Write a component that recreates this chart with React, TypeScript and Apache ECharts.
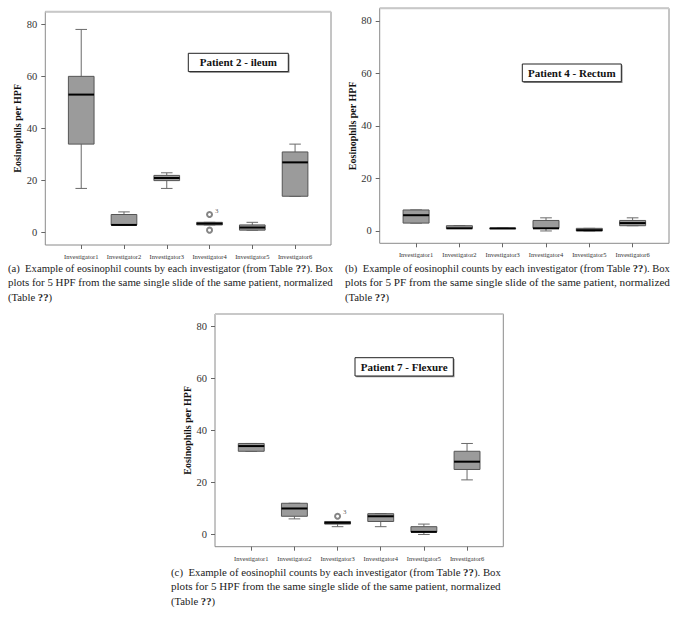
import React, { useEffect, useRef } from 'react';
import * as echarts from 'echarts';

const categories = ['Investigator1', 'Investigator2', 'Investigator3', 'Investigator4', 'Investigator5', 'Investigator6'];
const categoryIndex = [0, 1, 2, 3, 4, 5];
const yTicks = [0, 20, 40, 60, 80];
const yRange = [-4.7, 84.8];
const xRange = [-0.84, 5.84];

// [min, Q1, median, Q3, max]
const ileumBoxes = [
  [17, 34, 53, 60, 78],
  [3, 3, 3, 7, 8],
  [17, 20, 21, 22, 23],
  [3, 3, 3.5, 4, 4],
  [1, 1, 2, 3, 4],
  [14, 14, 27, 31, 34],
];
// [category index, value, case label]
const ileumOutliers: [number, number, string][] = [
  [3, 7, '3'],
  [3, 1, ''],
];

const rectumBoxes = [
  [3, 3, 6, 8, 8],
  [1, 1, 1, 2, 2],
  [1, 1, 1, 1, 1],
  [0, 1, 1, 4, 5],
  [0, 0, 0.3, 1, 1],
  [2, 2, 3, 4, 5],
];
const rectumOutliers: [number, number, string][] = [];

const flexureBoxes = [
  [32, 32, 34, 35, 35],
  [6, 7, 10, 12, 12],
  [3, 4, 4.5, 5, 5],
  [3, 5, 7, 8, 8],
  [0, 1, 1, 3, 4],
  [21, 25, 28, 32, 35],
];
const flexureOutliers: [number, number, string][] = [[2, 7, '3']];

const panelTitles = ['Patient 2 - ileum', 'Patient 4 - Rectum', 'Patient 7 - Flexure'];
const yAxisName = 'Eosinophils per HPF';

const captionA = [
  '(a)  Example of eosinophil counts by each investigator (from Table {b|??}). Box',
  'plots for 5 HPF from the same single slide of the same patient, normalized',
  '(Table {b|??})',
];
const captionB = [
  '(b)  Example of eosinophil counts by each investigator (from Table {b|??}). Box',
  'plots for 5 PF from the same single slide of the same patient, normalized',
  '(Table {b|??})',
];
const captionC = [
  '(c)  Example of eosinophil counts by each investigator (from Table {b|??}). Box',
  'plots for 5 HPF from the same single slide of the same patient, normalized',
  '(Table {b|??})',
];

const FONT = 'Liberation Serif';
const CAP_SIZE = 10.7;

const panels = [
  {
    boxes: ileumBoxes, outliers: ileumOutliers, title: panelTitles[0], caption: captionA,
    frame: { x: 45.3, y: 11.7, w: 285.7, h: 233.3 },
    tbox: { x: 188.3, y: 53.3, w: 100, h: 18.3 },
    cap: { x: 8, y: 268, w: 325 },
  },
  {
    boxes: rectumBoxes, outliers: rectumOutliers, title: panelTitles[1], caption: captionB,
    frame: { x: 379.7, y: 8.3, w: 289.3, h: 235 },
    tbox: { x: 522.3, y: 64, w: 99, h: 17.7 },
    cap: { x: 345, y: 268, w: 325 },
  },
  {
    boxes: flexureBoxes, outliers: flexureOutliers, title: panelTitles[2], caption: captionC,
    frame: { x: 215, y: 314, w: 288.3, h: 232.7 },
    tbox: { x: 355, y: 357.7, w: 98.3, h: 18.3 },
    cap: { x: 171, y: 572, w: 330 },
  },
];

let measureCtx: CanvasRenderingContext2D | null = null;
function measure(text: string): number {
  if (!measureCtx) measureCtx = document.createElement('canvas').getContext('2d');
  if (!measureCtx) return 0;
  let total = 0;
  const parts = text.split(/(\{b\|[^}]*\})/);
  parts.forEach((part) => {
    const m = part.match(/^\{b\|([^}]*)\}$/);
    if (m) {
      measureCtx!.font = `bold ${CAP_SIZE}px "${FONT}"`;
      total += measureCtx!.measureText(m[1]).width;
    } else {
      measureCtx!.font = `${CAP_SIZE}px "${FONT}"`;
      total += measureCtx!.measureText(part).width;
    }
  });
  return total;
}

function renderBox(params: any, api: any) {
  const x = api.value(0);
  const mn = api.value(1), q1 = api.value(2), md = api.value(3), q3 = api.value(4), mx = api.value(5);
  const band = api.size([1, 0])[0];
  const bw = band * 0.6;
  const cw = band * 0.27;
  const pMin = api.coord([x, mn]);
  const pQ1 = api.coord([x, q1]);
  const pMd = api.coord([x, md]);
  const pQ3 = api.coord([x, q3]);
  const pMax = api.coord([x, mx]);
  const cx = pMin[0];
  const wStyle = { stroke: '#6a6a6a', lineWidth: 1 };
  return {
    type: 'group',
    children: [
      { type: 'line', shape: { x1: cx, y1: pMax[1], x2: cx, y2: pQ3[1] }, style: wStyle },
      { type: 'line', shape: { x1: cx, y1: pQ1[1], x2: cx, y2: pMin[1] }, style: wStyle },
      { type: 'line', shape: { x1: cx - cw / 2, y1: pMax[1], x2: cx + cw / 2, y2: pMax[1] }, style: wStyle },
      { type: 'line', shape: { x1: cx - cw / 2, y1: pMin[1], x2: cx + cw / 2, y2: pMin[1] }, style: wStyle },
      {
        type: 'rect',
        shape: { x: cx - bw / 2, y: pQ3[1], width: bw, height: Math.max(pQ1[1] - pQ3[1], 0.5) },
        style: { fill: '#9b9b9b', stroke: '#555', lineWidth: 1 },
      },
      { type: 'line', shape: { x1: cx - bw / 2, y1: pMd[1], x2: cx + bw / 2, y2: pMd[1] }, style: { stroke: '#000', lineWidth: 2 } },
    ],
  };
}

function buildOption() {
  const grid: any[] = [];
  const xAxis: any[] = [];
  const yAxis: any[] = [];
  const series: any[] = [];
  const graphic: any[] = [];

  panels.forEach((p, i) => {
    grid.push({
      left: p.frame.x, top: p.frame.y, width: p.frame.w, height: p.frame.h,
      show: true, borderColor: '#8a8a8a', borderWidth: 1, backgroundColor: 'transparent',
    });
    xAxis.push({
      type: 'value', gridIndex: i, min: xRange[0], max: xRange[1], position: 'bottom',
      axisLine: { show: false, onZero: false },
      axisTick: { show: true, length: 4, customValues: categoryIndex, lineStyle: { color: '#666' } },
      axisLabel: {
        customValues: categoryIndex, formatter: (v: number) => categories[Math.round(v)] ?? '',
        fontSize: 6.5, fontFamily: FONT, color: '#333', margin: 8,
      },
      splitLine: { show: false },
    });
    yAxis.push({
      type: 'value', gridIndex: i, min: yRange[0], max: yRange[1], position: 'left',
      axisLine: { show: false, onZero: false },
      axisTick: { show: true, length: 4, customValues: yTicks, lineStyle: { color: '#666' } },
      axisLabel: { customValues: yTicks, fontSize: 10.5, fontFamily: FONT, color: '#333', margin: 8 },
      splitLine: { show: false },
      name: yAxisName, nameLocation: 'middle', nameGap: 21,
      nameTextStyle: { fontSize: 10, fontWeight: 'bold', fontFamily: FONT, color: '#111' },
    });
    series.push({
      type: 'custom', xAxisIndex: i, yAxisIndex: i,
      data: p.boxes.map((b, k) => [categoryIndex[k], ...b]),
      encode: { x: 0, y: [1, 2, 3, 4, 5] },
      renderItem: renderBox,
      z: 3,
    });
    series.push({
      type: 'scatter', xAxisIndex: i, yAxisIndex: i, symbol: 'emptyCircle', symbolSize: 5,
      itemStyle: { color: '#666', borderWidth: 1 },
      data: p.outliers.map((o) => ({
        value: [o[0], o[1]],
        label: { show: o[2] !== '', formatter: o[2], position: 'right', offset: [-3, -4], fontSize: 7, fontFamily: FONT, color: '#333' },
      })),
      z: 4,
    });

    // lighter top edge of the frame
    graphic.push({
      type: 'line', shape: { x1: p.frame.x, y1: p.frame.y, x2: p.frame.x + p.frame.w, y2: p.frame.y },
      style: { stroke: '#c8c8c8', lineWidth: 2 }, z: 2,
    });
    // title box
    graphic.push({
      type: 'rect', shape: { x: p.tbox.x + 1.2, y: p.tbox.y + 1.2, width: p.tbox.w, height: p.tbox.h },
      style: { fill: '#888', stroke: 'none' }, z: 5,
    });
    graphic.push({
      type: 'rect', shape: { x: p.tbox.x, y: p.tbox.y, width: p.tbox.w, height: p.tbox.h },
      style: { fill: '#fff', stroke: '#222', lineWidth: 1 }, z: 6,
    });
    graphic.push({
      type: 'text', x: p.tbox.x + p.tbox.w / 2, y: p.tbox.y + p.tbox.h / 2, z: 7,
      style: {
        text: p.title, fontSize: 11, fontWeight: 'bold', fontFamily: FONT, fill: '#111',
        align: 'center', verticalAlign: 'middle',
      },
    });
    // caption (first lines justified to the column width)
    p.caption.forEach((line, li) => {
      const last = li === p.caption.length - 1;
      const w = measure(line);
      const sx = !last && w > 0 ? Math.min(1.06, Math.max(0.94, p.cap.w / w)) : 1;
      graphic.push({
        type: 'text', x: p.cap.x, y: p.cap.y + li * 14.5, z: 7, scaleX: sx,
        style: {
          text: line, fontSize: CAP_SIZE, fontFamily: FONT, fill: '#222',
          align: 'left', verticalAlign: 'middle',
          rich: { b: { fontSize: CAP_SIZE, fontFamily: FONT, fontWeight: 'bold', fill: '#222' } },
        },
      });
    });
  });

  return { animation: false, backgroundColor: '#fff', grid, xAxis, yAxis, series, graphic };
}

export default function App() {
  const ref = useRef<HTMLDivElement>(null);
  useEffect(() => {
    if (!ref.current) return;
    const chart = echarts.init(ref.current, undefined, { renderer: 'svg' });
    chart.setOption(buildOption() as any);
    return () => chart.dispose();
  }, []);
  return <div ref={ref} style={{ position: 'fixed', left: 0, top: 0, width: 677, height: 622 }} />;
}
